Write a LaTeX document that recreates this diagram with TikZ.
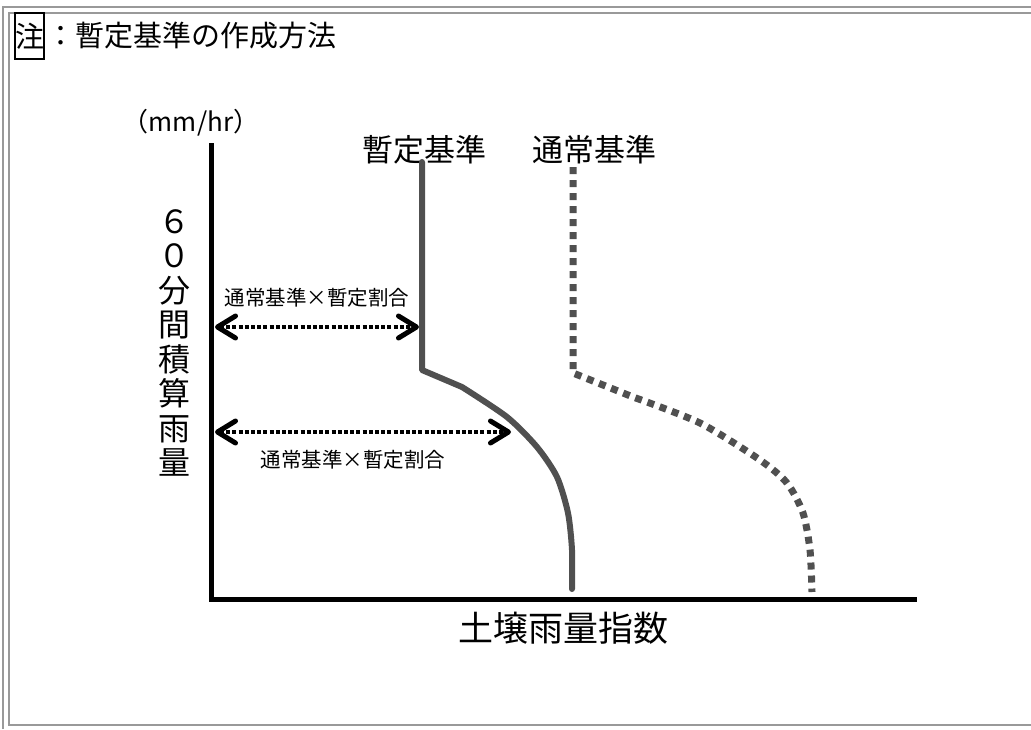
\documentclass[tikz,border=0pt]{standalone}
\usepackage{fontspec}
\setmainfont{Noto Sans CJK JP}
\usetikzlibrary{arrows.meta}
\definecolor{framegray}{HTML}{999999}
\definecolor{curvegray}{HTML}{505050}
\tikzset{
  frameline/.style={draw=framegray, line width=2.5pt},
  axisline/.style={draw=black, line width=5pt},
  tentative/.style={draw=curvegray, line width=6pt, line cap=round, line join=round},
  normalcurve/.style={draw=curvegray, line width=7pt, dash pattern=on 7pt off 6pt},
  ratioarrow/.style={draw=black, line width=4.5pt, dash pattern=on 4pt off 2.2pt,
     {Straight Barb[length=18pt,width=22pt,line width=5pt,round]}-{Straight Barb[length=18pt,width=22pt,line width=5pt,round]}},
  lbl/.style={inner sep=0pt, text=black}
}
\begin{document}
\begin{tikzpicture}[x=1pt,y=-1pt]
\useasboundingbox (0,0) rectangle (1031,729);
\fill[white] (0,0) rectangle (1031,729);
% frame
\draw[frameline] (3,729) -- (3,7) -- (1031,7);
\draw[frameline] (1031,13) -- (9,13) -- (9,725) -- (1031,725);
% title
\node[draw=black, line width=2pt, inner sep=0pt, minimum width=29pt, minimum height=46pt,
      font=\fontsize{29}{32}\selectfont] (note) at (29.5,36) {注};
\node[lbl, anchor=west, font=\fontsize{29}{32}\selectfont] (title) at ([xshift=1pt]note.east) {：暫定基準の作成方法};
% axes
\coordinate (ytop) at (211,143);
\coordinate (origin) at (211,599.5);
\coordinate (xend) at (917,599.5);
\draw[axisline] (ytop) -- (origin) -- (xend);
\node[lbl, font=\fontsize{26}{28}\selectfont] (unit) at (191,123) {（mm/hr）};
\node[lbl, align=center, font=\fontsize{32}{34.5}\selectfont] (ylabel) at (174,343)
  {６\\０\\分\\間\\積\\算\\雨\\量};
\node[lbl, font=\fontsize{35}{38}\selectfont] (xlabel) at (563,628) {土壌雨量指数};
% curve labels
\node[lbl, font=\fontsize{31}{34}\selectfont] (tlabel) at (424,150) {暫定基準};
\node[lbl, font=\fontsize{31}{34}\selectfont] (nlabel) at (594,150) {通常基準};
% tentative curve (solid)
\coordinate (t0) at (422,162);
\coordinate (t1) at (422,370);
\draw[tentative] (t0) -- (t1) -- plot[smooth, tension=0.45] coordinates
  {(462,387) (507,417) (537,447) (557,477) (568,513) (572,550) (572,589)};
% normal curve (dotted)
\coordinate (n0) at (573,167);
\coordinate (n1) at (573,373);
\draw[normalcurve] (n0) -- (n1) -- plot[smooth, tension=0.45] coordinates
  {(633,397) (700,423) (760,460) (787,483) (803,513) (810,550) (812,592)};
% ratio arrows
\coordinate (a1l) at (215,327);
\coordinate (a1r) at (419,327);
\coordinate (a2l) at (215,432);
\coordinate (a2r) at (511,432);
\draw[ratioarrow] (a1l) -- (a1r);
\draw[ratioarrow] (a2l) -- (a2r);
\node[lbl, font=\fontsize{20.5}{22}\selectfont] (r1) at (317,298) {通常基準×暫定割合};
\node[lbl, font=\fontsize{20.5}{22}\selectfont] (r2) at (353,460) {通常基準×暫定割合};
\end{tikzpicture}
\end{document}
